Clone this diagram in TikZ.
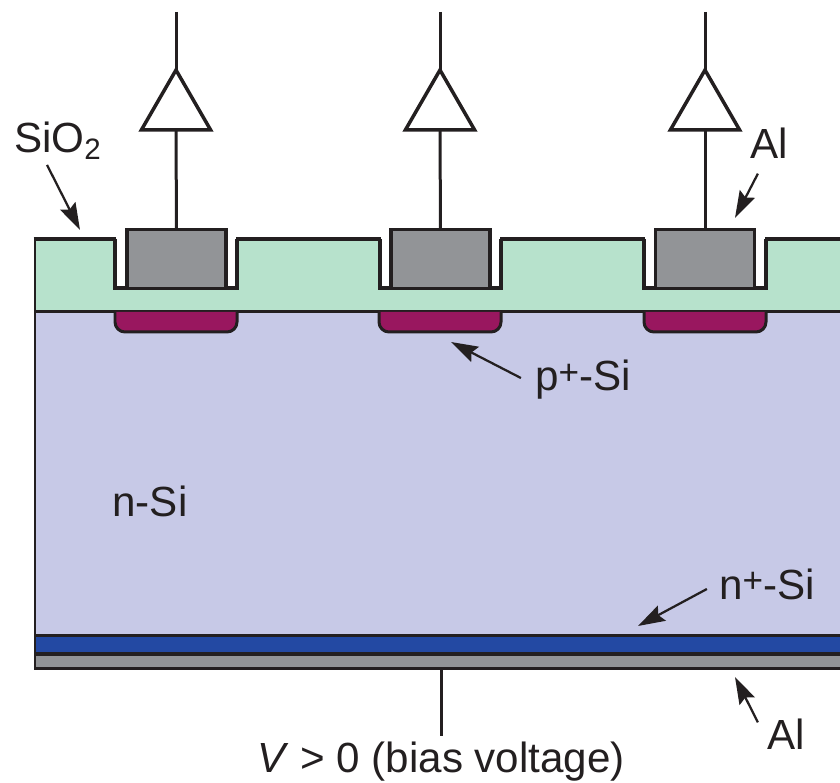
\documentclass[tikz,border=0pt]{standalone}
\usepackage{fontspec}
\setmainfont{Liberation Sans}
\usetikzlibrary{arrows.meta,shapes.geometric}
\definecolor{oxide}{HTML}{B7E2CC}
\definecolor{nsi}{HTML}{C7C9E7}
\definecolor{psi}{HTML}{99175F}
\definecolor{nplus}{HTML}{2349A3}
\definecolor{metal}{HTML}{929497}
\definecolor{ink}{HTML}{231F20}
\newcommand{\plusmark}{\raisebox{3.5pt}{\fontsize{20}{20}\selectfont +}}
\tikzset{
  amp/.style={draw=ink,fill=white,line width=0.07cm,regular polygon,regular polygon sides=3,
    minimum size=1.6cm,inner sep=0pt,outer sep=0pt},
  contact/.style={draw=ink,fill=metal,line width=0.07cm,minimum width=1.98cm,minimum height=1.18cm,
    inner sep=0pt,outer sep=0pt},
  wire/.style={draw=ink,line width=0.06cm},
  label/.style={text=ink,font=\fontsize{24}{28}\selectfont,inner sep=0pt},
  pointer/.style={draw=ink,line width=0.045cm,-{Stealth[length=0.54cm,width=0.34cm,inset=0.08cm]}},
}

\begin{document}
\begin{tikzpicture}[x=0.02cm,y=-0.02cm]
  \useasboundingbox (0,0) rectangle (840,783);
  % layers
  \fill[nsi] (35,312) rectangle (840,636);
  \fill[nplus] (35,636) rectangle (840,654);
  \fill[metal] (35,654) rectangle (840,669);
  \draw[ink,line width=0.06cm] (840,669) -- (35,669) -- (35,312);
  \draw[ink,line width=0.06cm] (35,636) -- (840,636);
  \draw[ink,line width=0.08cm] (35,654) -- (840,654);
  % oxide
  \fill[oxide] (35,238) -- (115,238) -- (115,288) -- (237,288) -- (237,238) -- (380,238) -- (380,288)
    -- (501,288) -- (501,238) -- (644,238) -- (644,288) -- (766,288) -- (766,238) -- (840,238)
    -- (840,312) -- (35,312) -- cycle;
  \draw[ink,line width=0.06cm] (35,312) -- (840,312);
  \draw[ink,line width=0.06cm] (35,312) -- (35,238);
  \draw[ink,line width=0.07cm] (115,239) -- (115,288) -- (237,288) -- (237,239);
  \draw[ink,line width=0.07cm] (380,239) -- (380,288) -- (501,288) -- (501,239);
  \draw[ink,line width=0.07cm] (644,239) -- (644,288) -- (766,288) -- (766,239);
  \draw[ink,line width=0.085cm] (33.5,239) -- (116,239) (236,239) -- (381,239) (500,239) -- (645,239) (765,239) -- (840,239);
  % p+ implants
  \draw[ink,fill=psi,line width=0.06cm,rounded corners=0.2cm] (115,312) -- (115,332) -- (237,332) -- (237,312);
  \draw[ink,fill=psi,line width=0.06cm,rounded corners=0.2cm] (379,312) -- (379,332) -- (501,332) -- (501,312);
  \draw[ink,fill=psi,line width=0.06cm,rounded corners=0.2cm] (644,312) -- (644,332) -- (766,332) -- (766,312);
  % contacts and amplifiers
  \node[contact] (al1) at (176.5,259) {};
  \node[contact] (al2) at (440.5,259) {};
  \node[contact] (al3) at (705,259) {};
  \node[amp] (amp1) at (176,110) {};
  \node[amp] (amp2) at (440,110) {};
  \node[amp] (amp3) at (705,110) {};
  \coordinate (out1) at (176,12);
  \coordinate (out2) at (440,12);
  \coordinate (out3) at (705,12);
  \draw[wire] (out1) -- (amp1.corner 1);
  \draw[wire] (out2) -- (amp2.corner 1);
  \draw[wire] (out3) -- (amp3.corner 1);
  \draw[wire] (amp1.side 2) -- (al1.north);
  \draw[wire] (amp2.side 2) -- (al2.north);
  \draw[wire] (amp3.side 2) -- (al3.north);
  % labels
  \node[label] (sio) at (58,141) {SiO\textsubscript{2}};
  \node[label] (altop) at (769,143) {Al};
  \node[label] (psilabel) at (583,380) {p\plusmark-Si};
  \node[label] (nsilabel) at (150,501) {n-Si};
  \node[label] (nplabel) at (767,584) {n\plusmark-Si};
  \node[label] (albot) at (786,734) {Al};
  \node[label,anchor=base] (bias) at (441,773) {\textit{V} > 0 (bias voltage)};
  % pointers
  \coordinate (sioend) at (80,230);
  \coordinate (altopend) at (735,218);
  \coordinate (psiend) at (451,342);
  \coordinate (npend) at (638,626);
  \coordinate (albotend) at (735,677);
  \draw[pointer] (sio.south) ++(-11,5) -- (sioend);
  \draw[pointer] (altop.south west) ++(8,15) -- (altopend);
  \draw[pointer] (psilabel.west) ++(-14,-2) -- (psiend);
  \draw[pointer] (nplabel.west) ++(-12,5) -- (npend);
  \draw[pointer] (albot.north west) ++(-9,4) -- (albotend);
  % bias lead
  \coordinate (back) at (441,669);
  \coordinate (lead) at (441,736);
  \draw[wire] (back) -- (lead);
\end{tikzpicture}
\end{document}
